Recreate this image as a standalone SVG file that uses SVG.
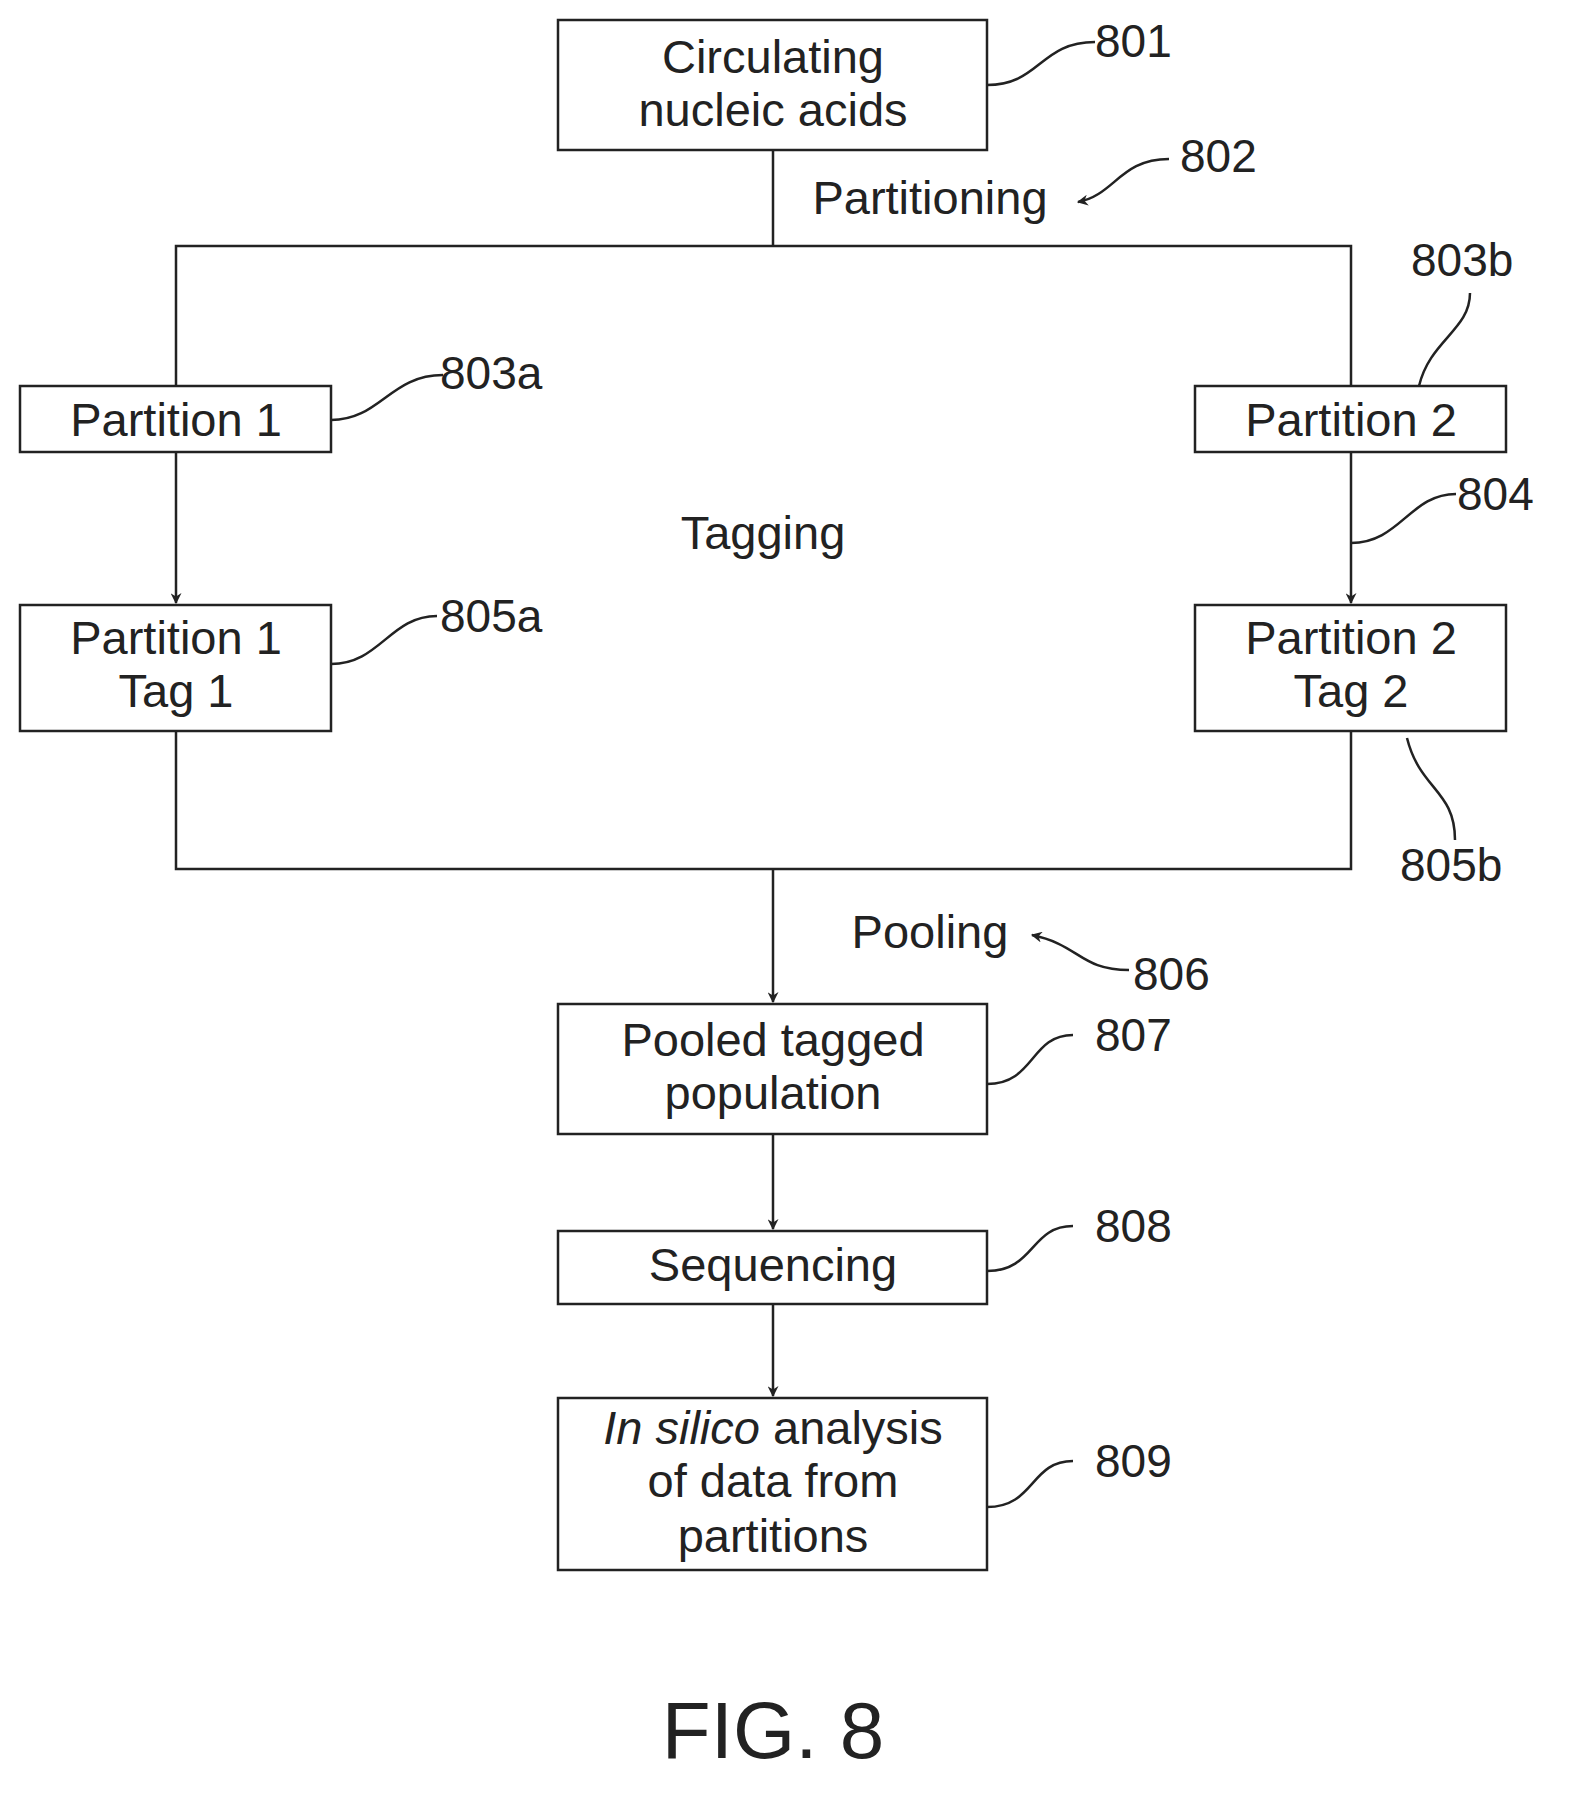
<svg xmlns="http://www.w3.org/2000/svg" width="1573" height="1796" viewBox="0 0 1573 1796">
<style>
.b{fill:#fff;stroke:#222;stroke-width:2.5}
.l{fill:none;stroke:#222;stroke-width:2.5}
text{font-family:"Liberation Sans",Arial,sans-serif;font-size:47px;fill:#222;text-anchor:middle}
.r{text-anchor:start;font-size:46px}
</style>
<defs><marker id="a" viewBox="0 0 20 20" refX="18" refY="10" markerWidth="11" markerHeight="11" markerUnits="userSpaceOnUse" orient="auto"><path d="M0,0 L20,10 L0,20 L6,10 Z" fill="#222"/></marker></defs>
<rect width="1573" height="1796" fill="#fff"/>
<g id="connectors" class="l">
<path d="M773,150V246M176,386V246H1351V386"/>
<path d="M176,452V603" marker-end="url(#a)"/>
<path d="M1351,452V603" marker-end="url(#a)"/>
<path d="M176,731V869H1351V731"/>
<path d="M773,869V1002" marker-end="url(#a)"/>
<path d="M773,1134V1229" marker-end="url(#a)"/>
<path d="M773,1304V1396" marker-end="url(#a)"/>
</g>
<g id="leaders" class="l">
<path d="M987,85C1040,85 1040,42 1095,42"/>
<path d="M1169,159C1120,159 1115,195 1078,202" marker-end="url(#a)"/>
<path d="M331,420C380,420 390,375 443,375"/>
<path d="M1419,386C1430,340 1470,330 1470,293"/>
<path d="M1351,543C1400,543 1410,494 1456,494"/>
<path d="M331,664C380,664 390,616 437,616"/>
<path d="M1407,738C1420,790 1455,790 1455,840"/>
<path d="M1129,970C1080,970 1080,945 1032,935" marker-end="url(#a)"/>
<path d="M987,1084C1035,1084 1030,1035 1073,1035"/>
<path d="M987,1271C1035,1271 1030,1226 1073,1226"/>
<path d="M987,1507C1035,1507 1030,1461 1073,1461"/>
</g>
<g id="n801"><rect class="b" x="558" y="20" width="429" height="130"/><text x="773" y="73">Circulating</text><text x="773" y="126">nucleic acids</text></g>
<g id="n803a"><rect class="b" x="20" y="386" width="311" height="66"/><text x="176" y="436">Partition 1</text></g>
<g id="n803b"><rect class="b" x="1195" y="386" width="311" height="66"/><text x="1351" y="436">Partition 2</text></g>
<g id="n805a"><rect class="b" x="20" y="605" width="311" height="126"/><text x="176" y="654">Partition 1</text><text x="176" y="707">Tag 1</text></g>
<g id="n805b"><rect class="b" x="1195" y="605" width="311" height="126"/><text x="1351" y="654">Partition 2</text><text x="1351" y="707">Tag 2</text></g>
<g id="n807"><rect class="b" x="558" y="1004" width="429" height="130"/><text x="773" y="1056">Pooled tagged</text><text x="773" y="1109">population</text></g>
<g id="n808"><rect class="b" x="558" y="1231" width="429" height="73"/><text x="773" y="1281">Sequencing</text></g>
<g id="n809"><rect class="b" x="558" y="1398" width="429" height="172"/><text x="773" y="1444"><tspan font-style="italic">In silico</tspan> analysis</text><text x="773" y="1497">of data from</text><text x="773" y="1552">partitions</text></g>
<g id="labels">
<text x="930" y="214">Partitioning</text>
<text x="763" y="549">Tagging</text>
<text x="930" y="948">Pooling</text>
<text class="r" x="1095" y="57">801</text>
<text class="r" x="1180" y="172">802</text>
<text class="r" x="440" y="389">803a</text>
<text class="r" x="1411" y="276">803b</text>
<text class="r" x="1457" y="510">804</text>
<text class="r" x="440" y="632">805a</text>
<text class="r" x="1400" y="881">805b</text>
<text class="r" x="1133" y="990">806</text>
<text class="r" x="1095" y="1051">807</text>
<text class="r" x="1095" y="1242">808</text>
<text class="r" x="1095" y="1477">809</text>
<text x="773" y="1758" style="font-size:80px">FIG. 8</text>
</g>
</svg>
